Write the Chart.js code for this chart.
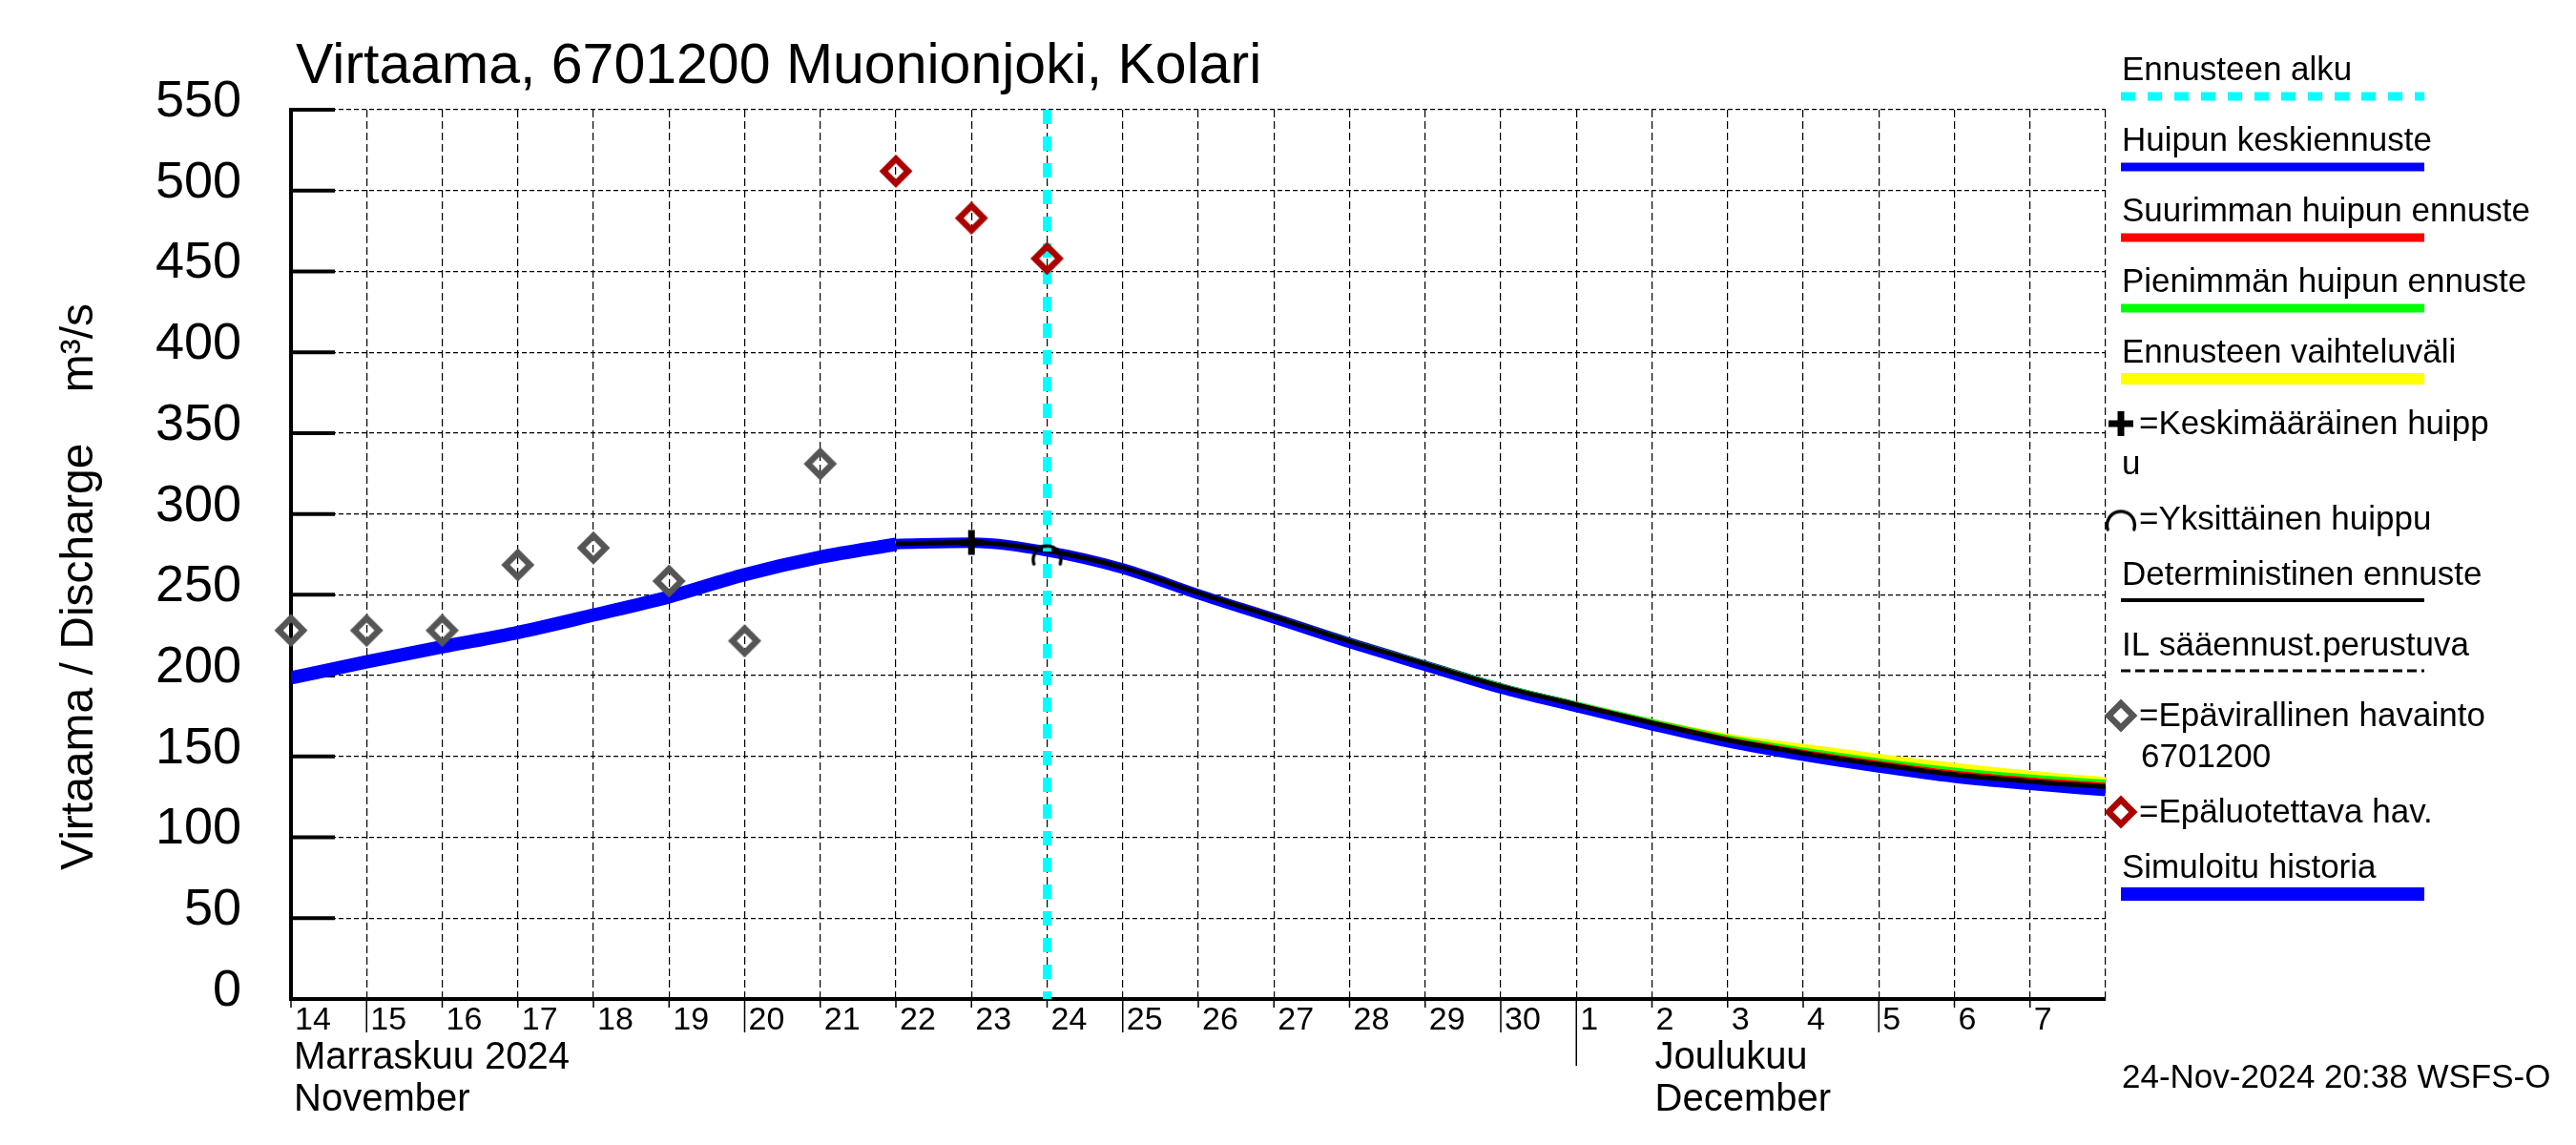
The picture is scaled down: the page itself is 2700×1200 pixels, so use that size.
<!DOCTYPE html>
<html><head><meta charset="utf-8">
<script src="https://cdn.jsdelivr.net/npm/chart.js@4.4.1/dist/chart.umd.min.js"></script>
<style>html,body{margin:0;padding:0;background:#fff;}canvas{display:block;}</style>
</head><body>
<canvas id="c" width="2700" height="1200" style="width:2700px;height:1200px"></canvas>
<script>
// ---- data (x = days since 14 Nov 2024 00:00) ----
const tickLabels = ['14','15','16','17','18','19','20','21','22','23','24','25','26','27','28','29','30','1','2','3','4','5','6','7',''];
const yTickStep = 50;
const yMax = 550;

const simDays = [0,1,2,3,4,5,6,7,8];
const simFlow = [198.6,208.5,217.8,226.7,237.5,248.8,262.5,273.3,281.2];

const fcDays = [8,9,10,11,12,13,14,15,16,17,18,19,20,21,22,23,24];
const fcDeterministic = [281.6,282.4,277.4,266.8,251.0,236.3,221.2,207.2,193.3,181.9,170.7,160.2,152.0,145.0,138.8,134.6,131.3];
const fcMedian        = [281.4,282.2,276.9,266.2,250.3,235.4,220.2,206.1,192.1,180.6,169.3,158.8,150.4,143.2,136.9,132.4,128.6];
const fcMaxPeak       = [281.6,282.4,277.5,266.9,251.2,236.5,221.5,207.6,193.8,182.5,171.5,161.3,153.3,146.5,140.4,136.2,133.0];
const fcMinPeak       = [281.6,282.4,277.6,267.0,251.4,236.8,221.9,208.1,194.4,183.1,172.3,162.3,154.6,148.0,142.2,137.9,134.8];
const fcBandHigh      = [282.0,283.0,278.2,267.6,252.0,237.2,222.4,208.6,195.0,183.8,173.2,164.2,157.8,151.6,146.0,141.2,137.3];
const fcBandLow       = [281.2,281.8,276.4,265.6,249.6,234.6,219.4,205.2,191.2,179.6,168.2,157.6,149.2,142.0,135.6,131.0,127.0];

const obsDays = [0,1,2,3,4,5,6,7];
const obsFlow = [228,228,228,268.5,279,258.5,221.5,331];
const unreliableDays = [8,9,10];
const unreliableFlow = [512,483,458];
const meanPeakDays = [9];
const meanPeakFlow = [282.4];
const singlePeakDays = [10];
const singlePeakFlow = [277.6];
const forecastStartDay = 10;

const titleText = 'Virtaama, 6701200 Muonionjoki, Kolari';
const yTitleText = 'Virtaama / Discharge    m\u00B3/s';
const monthLabelDays = [0,18];
const monthLabelsFi = ['Marraskuu 2024','Joulukuu'];
const monthLabelsEn = ['November','December'];
const legendTexts = ['Ennusteen alku','Huipun keskiennuste','Suurimman huipun ennuste','Pienimmän huipun ennuste','Ennusteen vaihteluväli','=Keskimääräinen huipp','u','=Yksittäinen huippu','Deterministinen ennuste','IL sääennust.perustuva','=Epävirallinen havainto','6701200','=Epäluotettava hav.','Simuloitu historia'];
const stampText = '24-Nov-2024 20:38 WSFS-O';

// ---- helpers ----
const FONT = "'Liberation Sans', Arial, Helvetica, sans-serif";
Chart.defaults.font.family = FONT;
const pts = (xs, ys) => xs.map((x, i) => ({x: x, y: ys[i]}));

function diamondPath(ctx, x, y, r) {
  ctx.beginPath(); ctx.moveTo(x - r, y); ctx.lineTo(x, y - r); ctx.lineTo(x + r, y); ctx.lineTo(x, y + r); ctx.closePath();
}
function makeDiamond(color) {
  const c = document.createElement('canvas'); c.width = 44; c.height = 44;
  const g = c.getContext('2d'); g.strokeStyle = color; g.lineWidth = 6.6; g.lineJoin = 'miter';
  diamondPath(g, 22, 22, 12.8); g.stroke();
  return c;
}
const grayDiamond = makeDiamond('#555555');
const redDiamond = makeDiamond('#aa0000');

const arcImg = document.createElement('canvas');
arcImg.width = 40; arcImg.height = 40;
(function(){
  const a = arcImg.getContext('2d');
  a.strokeStyle = '#000'; a.lineWidth = 3.4; a.lineCap = 'round';
  a.beginPath(); a.arc(20, 30, 14.5, Math.PI * 0.9, Math.PI * 2.1); a.stroke();
})();

function hline(ctx, x1, x2, y, color, w, dash) {
  ctx.save(); ctx.strokeStyle = color; ctx.lineWidth = w; ctx.setLineDash(dash || []);
  ctx.beginPath(); ctx.moveTo(x1, y); ctx.lineTo(x2, y); ctx.stroke(); ctx.restore();
}

const customPlugin = {
  id: 'custom',
  beforeDraw(chart) {
    const ctx = chart.ctx; ctx.save(); ctx.fillStyle = '#fff'; ctx.fillRect(0, 0, chart.width, chart.height); ctx.restore();
  },
  beforeDatasetsDraw(chart) {
    const ctx = chart.ctx, ys = chart.scales.y, left = chart.chartArea.left;
    ctx.save(); ctx.strokeStyle = '#000'; ctx.lineWidth = 4;
    for (let v = 0; v <= yMax; v += yTickStep) {
      const py = ys.getPixelForValue(v);
      ctx.beginPath(); ctx.moveTo(left, py); ctx.lineTo(left + 46, py); ctx.stroke();
    }
    ctx.restore();
  },
  afterDraw(chart) {
    const ctx = chart.ctx, xs = chart.scales.x, area = chart.chartArea;
    ctx.save();
    // x tick marks below the axis
    ctx.strokeStyle = '#000'; ctx.lineWidth = 1.5;
    for (let i = 0; i < tickLabels.length - 1; i++) {
      const px = xs.getPixelForValue(i);
      const n = parseInt(tickLabels[i], 10);
      let len = 9;
      if (n % 5 === 0) len = 35;
      if (n === 1) len = 70;
      ctx.beginPath(); ctx.moveTo(px, area.bottom); ctx.lineTo(px, area.bottom + len); ctx.stroke();
    }
    ctx.fillStyle = '#000';
    ctx.textBaseline = 'alphabetic'; ctx.textAlign = 'left';
    // month labels
    ctx.font = '40px ' + FONT;
    monthLabelDays.forEach((d, i) => {
      const px = xs.getPixelForValue(d) + 3;
      ctx.fillText(monthLabelsFi[i], px, 1120);
      ctx.fillText(monthLabelsEn[i], px, 1164);
    });
    // title
    ctx.font = '59px ' + FONT;
    ctx.fillText(titleText, 310, 87);
    // y axis title
    ctx.save();
    ctx.font = '48px ' + FONT;
    ctx.translate(97, 615); ctx.rotate(-Math.PI / 2); ctx.textAlign = 'center';
    ctx.fillText(yTitleText, 0, 0);
    ctx.restore();
    // legend
    const LX = 2224, L1 = 2223, L2 = 2541, TX = 2242;
    ctx.font = '35px ' + FONT;
    ctx.fillText(legendTexts[0], LX, 84);
    hline(ctx, L1, L2, 101, '#00ffff', 9, [15, 13]);
    ctx.fillText(legendTexts[1], LX, 158);
    hline(ctx, L1, L2, 175, '#0000ff', 9);
    ctx.fillText(legendTexts[2], LX, 232);
    hline(ctx, L1, L2, 249, '#ff0000', 9);
    ctx.fillText(legendTexts[3], LX, 306);
    hline(ctx, L1, L2, 323, '#00ff00', 9);
    ctx.fillText(legendTexts[4], LX, 380);
    hline(ctx, L1, L2, 397, '#ffff00', 12);
    // plus symbol
    ctx.save(); ctx.strokeStyle = '#000'; ctx.lineWidth = 7;
    ctx.beginPath(); ctx.moveTo(2223, 431); ctx.lineTo(2223, 457); ctx.moveTo(2210, 444); ctx.lineTo(2236, 444); ctx.stroke(); ctx.restore();
    ctx.fillText(legendTexts[5], TX, 455);
    ctx.fillText(legendTexts[6], LX, 497);
    ctx.drawImage(arcImg, 2223 - 20, 536 - 15.5);
    ctx.fillText(legendTexts[7], TX, 555);
    ctx.fillText(legendTexts[8], LX, 613);
    hline(ctx, L1, L2, 629, '#000', 4);
    ctx.fillText(legendTexts[9], LX, 687);
    hline(ctx, L1, L2, 703, '#000', 3, [10, 5]);
    ctx.drawImage(grayDiamond, 2223 - 22, 750 - 22);
    ctx.fillText(legendTexts[10], TX, 761);
    ctx.fillText(legendTexts[11], 2244, 804);
    ctx.drawImage(redDiamond, 2223 - 22, 851 - 22);
    ctx.fillText(legendTexts[12], TX, 862);
    ctx.fillText(legendTexts[13], LX, 920);
    hline(ctx, L1, L2, 937, '#0000ff', 14);
    ctx.fillText(stampText, LX, 1140);
    ctx.restore();
  }
};

const lineBase = {pointRadius: 0, pointHoverRadius: 0, pointHitRadius: 0, cubicInterpolationMode: 'monotone', fill: false};

new Chart(document.getElementById('c'), {
  type: 'line',
  data: {
    datasets: [
      {label: 'Epäluotettava hav.', data: pts(unreliableDays, unreliableFlow), showLine: false, pointStyle: redDiamond, pointRadius: 12, clip: false, order: 0},
      {label: 'Epävirallinen havainto', data: pts(obsDays, obsFlow), showLine: false, pointStyle: grayDiamond, pointRadius: 12, clip: false, order: 0},
      {label: 'Keskimääräinen huippu', data: pts(meanPeakDays, meanPeakFlow), showLine: false, pointStyle: 'cross', pointRadius: 13, pointBorderWidth: 7, pointBorderColor: '#000', clip: false, order: 1},
      {label: 'Yksittäinen huippu', data: pts(singlePeakDays, singlePeakFlow), showLine: false, pointStyle: arcImg, pointRadius: 10, clip: false, order: 1},
      Object.assign({}, lineBase, {label: 'Ennusteen alku', data: [{x: forecastStartDay, y: yMax}, {x: forecastStartDay, y: 0}], borderColor: '#00ffff', borderWidth: 9, borderDash: [15, 13], cubicInterpolationMode: 'default', tension: 0, order: 2}),
      Object.assign({}, lineBase, {label: 'Deterministinen ennuste', data: pts(fcDays, fcDeterministic), borderColor: '#000', borderWidth: 5, order: 3}),
      Object.assign({}, lineBase, {label: 'Suurimman huipun ennuste', data: pts(fcDays, fcMaxPeak), borderColor: '#ff0000', borderWidth: 3, order: 4}),
      Object.assign({}, lineBase, {label: 'Pienimmän huipun ennuste', data: pts(fcDays, fcMinPeak), borderColor: '#00ff00', borderWidth: 3, order: 5}),
      Object.assign({}, lineBase, {label: 'Huipun keskiennuste', data: pts(fcDays, fcMedian), borderColor: '#0000ff', borderWidth: 11, order: 6}),
      Object.assign({}, lineBase, {label: 'Simuloitu historia', data: pts(simDays, simFlow), borderColor: '#0000ff', borderWidth: 14, order: 7}),
      Object.assign({}, lineBase, {label: 'vaihteluväli ylä', data: pts(fcDays, fcBandHigh), borderColor: 'rgba(0,0,0,0)', borderWidth: 1, backgroundColor: '#ffff00', fill: '+1', order: 8}),
      Object.assign({}, lineBase, {label: 'vaihteluväli ala', data: pts(fcDays, fcBandLow), borderColor: 'rgba(0,0,0,0)', borderWidth: 1, order: 9})
    ]
  },
  options: {
    responsive: false, animation: false, devicePixelRatio: 1,
    events: [],
    layout: {padding: {left: 0, right: 493, top: 115, bottom: 0}},
    plugins: {legend: {display: false}, tooltip: {enabled: false}, title: {display: false}},
    scales: {
      x: {
        type: 'linear', min: 0, max: 24,
        afterFit(s) { s.height = 153; },
        ticks: {stepSize: 1, autoSkip: false, maxRotation: 0, minRotation: 0, align: 'start', labelOffset: 4, padding: 2, color: '#000', font: {size: 34},
          callback: (v) => (tickLabels[v] !== undefined ? tickLabels[v] : '')},
        grid: {color: '#000', lineWidth: 1.2, drawTicks: false},
        border: {display: true, color: '#000', width: 4, dash: [8, 4]}
      },
      y: {
        min: 0, max: yMax,
        afterFit(s) { s.width = 305; },
        ticks: {stepSize: yTickStep, padding: 52, labelOffset: -8, color: '#000', font: {size: 54}},
        grid: {color: '#000', lineWidth: 1.2, drawTicks: false},
        border: {display: true, color: '#000', width: 4, dash: [5, 3]}
      }
    }
  },
  plugins: [customPlugin]
});
</script>
</body></html>
